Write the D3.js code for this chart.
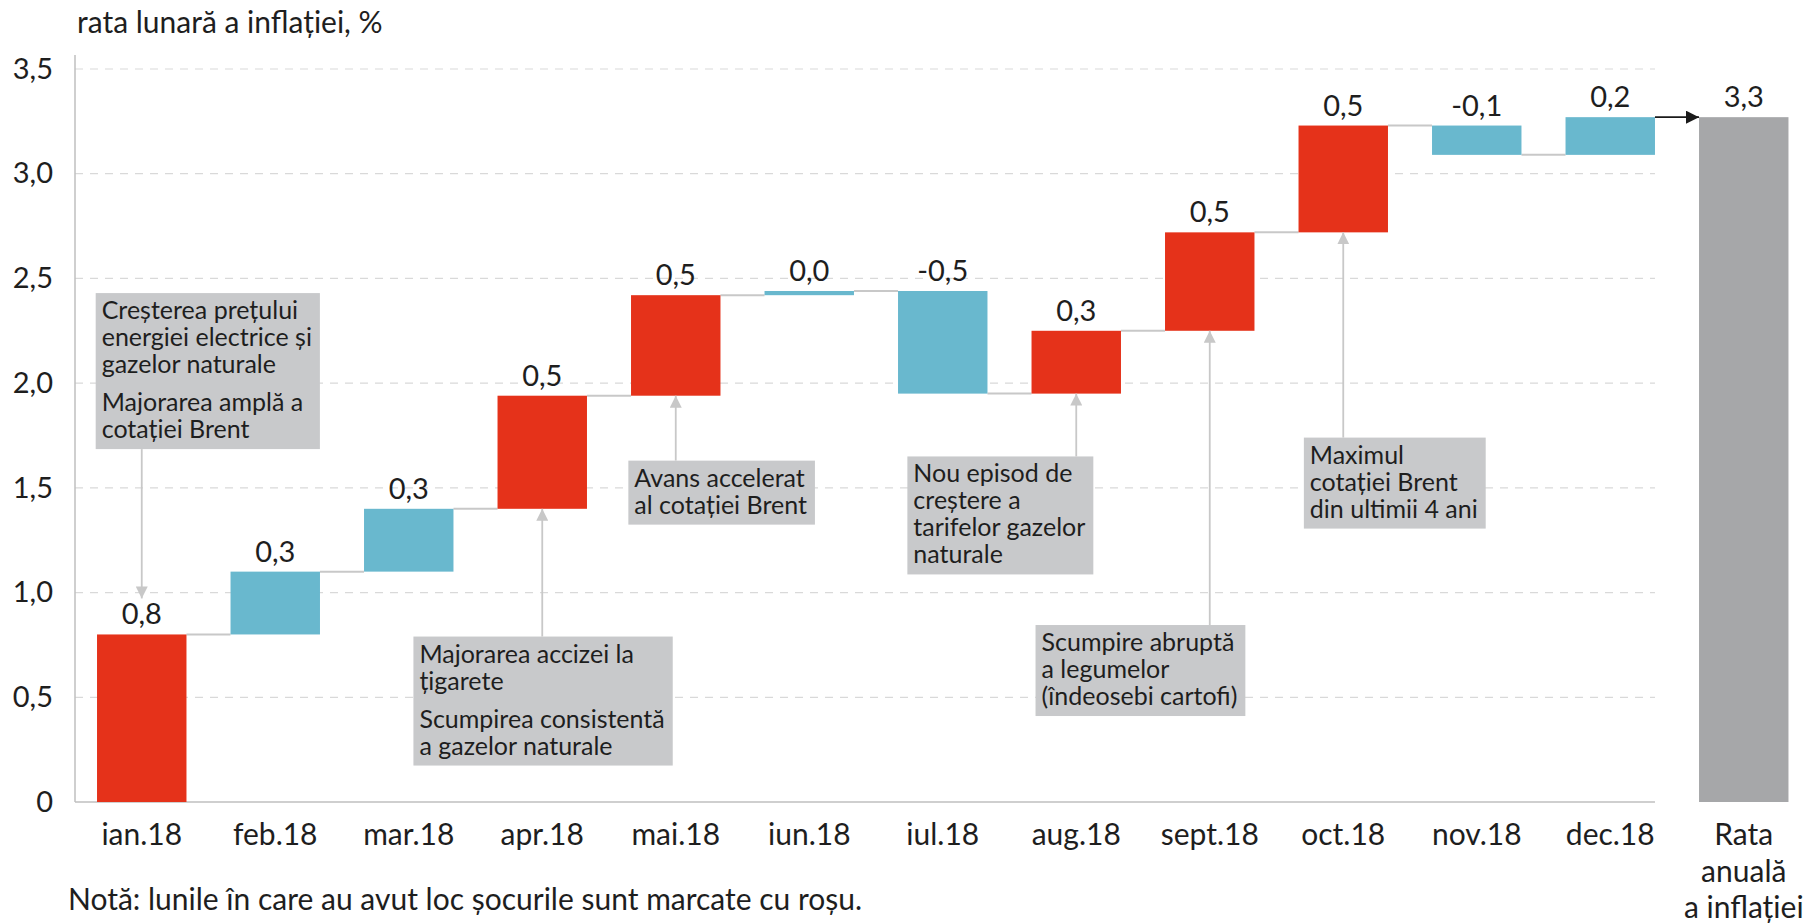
<!DOCTYPE html>
<html>
<head>
<meta charset="utf-8">
<script src="https://cdn.jsdelivr.net/npm/d3@7"></script>
<style>
  body { margin: 0; background: #fff; }
  text { font-family: Lato, 'Open Sans', sans-serif; fill: #1e1e1e; }
</style>
</head>
<body>
<script>
// date: rata lunara a inflatiei, 2018
var months = ['ian.18', 'feb.18', 'mar.18', 'apr.18', 'mai.18', 'iun.18',
              'iul.18', 'aug.18', 'sept.18', 'oct.18', 'nov.18', 'dec.18'];
var monthly = [0.80, 0.30, 0.30, 0.54, 0.48, 0.02, -0.49, 0.30, 0.47, 0.51, -0.14, 0.18];
var shocks = [true, false, false, true, true, false, false, true, true, true, false, false];
var annualName = 'Rata anuală a inflației';
var annualLines = ['Rata', 'anuală', 'a inflației'];
var annualValue = 3.27;
var yTicks = [0, 0.5, 1, 1.5, 2, 2.5, 3, 3.5];
var title = 'rata lunară a inflației, %';
var footnote = 'Notă: lunile în care au avut loc șocurile sunt marcate cu roșu.';

// casetele cu explicatii: luna, directia sagetii, marginea de sus (valoare), deplasare (in pasi de bara)
var annotations = [
    {month: 'ian.18', dir: 'down', top: 2.43, shift: -0.01,
     paras: [['Creșterea prețului', 'energiei electrice și', 'gazelor naturale'], ['Majorarea amplă a', 'cotației Brent']]},
    {month: 'apr.18', dir: 'up', top: 0.79, shift: -0.63,
     paras: [['Majorarea accizei la', 'țigarete'], ['Scumpirea consistentă', 'a gazelor naturale']]},
    {month: 'mai.18', dir: 'up', top: 1.63, shift: -0.02,
     paras: [['Avans accelerat', 'al cotației Brent']]},
    {month: 'aug.18', dir: 'up', top: 1.65, shift: -0.93,
     paras: [['Nou episod de', 'creștere a', 'tarifelor gazelor', 'naturale']]},
    {month: 'sept.18', dir: 'up', top: 0.845, shift: -0.97,
     paras: [['Scumpire abruptă', 'a legumelor', '(îndeosebi cartofi)']]},
    {month: 'oct.18', dir: 'up', top: 1.74, shift: 0.04,
     paras: [['Maximul', 'cotației Brent', 'din ultimii 4 ani']]}
];

var RED = '#e5321a', BLUE = '#69b8ce', GREY = '#a6a7a9', BOX = '#c8c9cb', LINE = '#c8c8c8';

var ro = d3.formatLocale({decimal: ',', thousands: '.', grouping: [3], currency: ['', ''], minus: '-'});
var f1 = ro.format('.1f');

var svg = d3.select('body').append('svg')
    .attr('width', 1805)
    .attr('height', 924);

var defs = svg.append('defs');
defs.append('marker').attr('id', 'headGrey')
    .attr('viewBox', '0 0 12 12').attr('refX', 12).attr('refY', 6)
    .attr('markerWidth', 12).attr('markerHeight', 12).attr('markerUnits', 'userSpaceOnUse')
    .attr('orient', 'auto')
    .append('path').attr('d', 'M0,0L12,6L0,12Z').attr('fill', LINE);
defs.append('marker').attr('id', 'headBlack')
    .attr('viewBox', '0 0 12 12').attr('refX', 12).attr('refY', 6)
    .attr('markerWidth', 13).attr('markerHeight', 13).attr('markerUnits', 'userSpaceOnUse')
    .attr('orient', 'auto')
    .append('path').attr('d', 'M0,0L12,6L0,12Z').attr('fill', '#1a1a1a');

var x = d3.scaleBand()
    .domain(months.concat([annualName]))
    .range([75, 75 + 13 * 133.5])
    .paddingInner(0.33)
    .paddingOuter(0.165);
var y = d3.scaleLinear().domain([0, 3.5]).range([802, 69]);

var plotRight = x(months[months.length - 1]) + x.bandwidth();

// pasii cascadei
var cum = 0;
var steps = monthly.map(function (v, i) {
    var s = {month: months[i], start: cum, end: cum + v, value: v, shock: shocks[i]};
    cum += v;
    return s;
});

// grila
svg.append('g').selectAll('line')
    .data(yTicks.filter(function (d) { return d > 0; }))
    .enter().append('line')
    .attr('x1', 75).attr('x2', plotRight)
    .attr('y1', function (d) { return y(d); })
    .attr('y2', function (d) { return y(d); })
    .attr('stroke', '#d9d9d9')
    .attr('stroke-width', 1.2)
    .attr('stroke-dasharray', '8,7');

// axa Y
var yAxis = svg.append('g')
    .attr('transform', 'translate(75,0)')
    .call(d3.axisLeft(y).tickValues(yTicks).tickSize(0).tickPadding(22)
        .tickFormat(function (d) { return d === 0 ? '0' : f1(d); }));
yAxis.select('.domain').remove();
yAxis.selectAll('text')
    .style('font-family', 'Lato, sans-serif')
    .attr('font-size', 29)
    .attr('fill', '#1e1e1e');

svg.append('line')
    .attr('x1', 75).attr('x2', 75)
    .attr('y1', y(3.5) - 14).attr('y2', y(0))
    .attr('stroke', '#bfbfbf').attr('stroke-width', 1.5);
svg.append('line')
    .attr('x1', 75).attr('x2', plotRight)
    .attr('y1', y(0)).attr('y2', y(0))
    .attr('stroke', '#bfbfbf').attr('stroke-width', 1.5);

// axa X
var xAxis = svg.append('g')
    .attr('transform', 'translate(0,' + y(0) + ')')
    .call(d3.axisBottom(x).tickSize(0));
xAxis.select('.domain').remove();
xAxis.selectAll('text')
    .style('font-family', 'Lato, sans-serif')
    .attr('font-size', 30)
    .attr('fill', '#1e1e1e')
    .attr('y', 43)
    .attr('dy', 0)
    .each(function (d) {
        if (d !== annualName) return;
        var t = d3.select(this).text(null);
        annualLines.forEach(function (l, i) {
            t.append('tspan').attr('x', 0).attr('y', 43 + i * 36.5).text(l);
        });
    });

// linii de legatura
svg.append('g').selectAll('line')
    .data(steps.slice(0, -1))
    .enter().append('line')
    .attr('x1', function (d) { return x(d.month) + x.bandwidth(); })
    .attr('x2', function (d, i) { return x(months[i + 1]); })
    .attr('y1', function (d) { return y(d.end); })
    .attr('y2', function (d) { return y(d.end); })
    .attr('stroke', LINE)
    .attr('stroke-width', 2);

// bare
svg.append('g').selectAll('rect')
    .data(steps)
    .enter().append('rect')
    .attr('x', function (d) { return x(d.month); })
    .attr('width', x.bandwidth())
    .attr('y', function (d) { return y(Math.max(d.start, d.end)); })
    .attr('height', function (d) { return Math.abs(y(d.start) - y(d.end)); })
    .attr('fill', function (d) { return d.shock ? RED : BLUE; });

svg.append('rect')
    .attr('x', x(annualName))
    .attr('width', x.bandwidth())
    .attr('y', y(annualValue))
    .attr('height', y(0) - y(annualValue))
    .attr('fill', GREY);

// sageata spre rata anuala
var last = steps[steps.length - 1];
svg.append('line')
    .attr('x1', x(last.month) + x.bandwidth())
    .attr('x2', x(annualName))
    .attr('y1', y(last.end)).attr('y2', y(last.end))
    .attr('stroke', '#1a1a1a').attr('stroke-width', 1.8)
    .attr('marker-end', 'url(#headBlack)');

// etichete valori
svg.append('g').selectAll('text')
    .data(steps.concat([{month: annualName, start: 0, end: annualValue, value: annualValue}]))
    .enter().append('text')
    .attr('x', function (d) { return x(d.month) + x.bandwidth() / 2; })
    .attr('y', function (d) { return y(Math.max(d.start, d.end)) - 10; })
    .attr('text-anchor', 'middle')
    .attr('font-size', 29)
    .text(function (d) { return f1(d.value); });

// casete cu explicatii
var LH = 27, GAP = 11, PADL = 6, PADR = 8;
annotations.forEach(function (a) {
    var step = steps[months.indexOf(a.month)];
    var cx = x(a.month) + x.bandwidth() / 2;
    var left = x(a.month) + a.shift * x.step();
    var top = y(a.top);
    var g = svg.append('g');
    var rect = g.append('rect').attr('fill', BOX);
    var t = g.append('text').attr('font-size', 25);
    var yy = top + 26;
    a.paras.forEach(function (p, pi) {
        if (pi > 0) yy += GAP;
        p.forEach(function (l) {
            t.append('tspan').attr('x', left + PADL).attr('y', yy).text(l);
            yy += LH;
        });
    });
    var bottom = yy - LH + 11;
    var w = 0;
    t.selectAll('tspan').each(function () { w = Math.max(w, this.getComputedTextLength()); });
    rect.attr('x', left).attr('y', top)
        .attr('width', w + PADL + PADR).attr('height', bottom - top);

    if (a.dir === 'down') {
        svg.append('line')
            .attr('x1', cx).attr('x2', cx)
            .attr('y1', bottom).attr('y2', y(step.end) - 36)
            .attr('stroke', LINE).attr('stroke-width', 1.8)
            .attr('marker-end', 'url(#headGrey)');
    } else {
        svg.append('line')
            .attr('x1', cx).attr('x2', cx)
            .attr('y1', top).attr('y2', y(Math.min(step.start, step.end)))
            .attr('stroke', LINE).attr('stroke-width', 1.8)
            .attr('marker-end', 'url(#headGrey)');
    }
});

// titlu si nota
svg.append('text')
    .attr('x', 77).attr('y', 33)
    .attr('font-size', 30)
    .text(title);
svg.append('text')
    .attr('x', 68).attr('y', 910)
    .attr('font-size', 30)
    .text(footnote);
</script>
</body>
</html>
